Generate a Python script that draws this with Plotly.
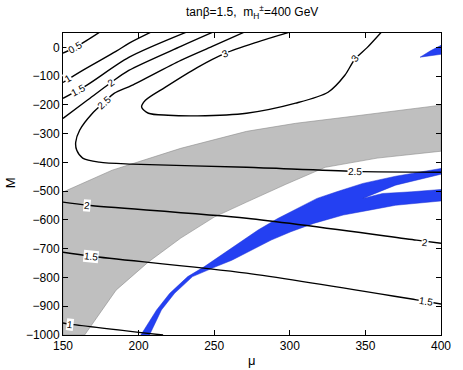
import plotly.graph_objects as go

# ---------------- data ----------------
x_ticks = [150, 200, 250, 300, 350, 400]
y_ticks = [-1000, -900, -800, -700, -600, -500, -400, -300, -200, -100, 0]

# contour lines (mu, M)
c05_mu = [150, 158, 166, 174]
c05_M = [-20, 0, 25, 52]

c1a_mu = [150, 163, 185, 193.5, 207.8]
c1a_M = [-122, -80, -14, 14, 52]

c15a_mu = [150, 165.6, 193.5, 231.2]
c15a_M = [-177, -132, -35, 52]

c2a_mu = [150, 166, 181.8, 193.5, 227.9, 248.7]
c2a_M = [-247, -184, -122, -80, 3.5, 52]

c25_mu = [269.5, 248.7, 227.9, 195.5, 183.8, 177.3, 169.5, 161, 158.4, 159.1, 163, 174, 195.5, 271.4, 342.9, 400]
c25_M = [52, 3.5, -45, -132, -160, -191, -229, -288, -330, -358, -385, -399, -406, -417, -431, -434]

c3_mu = [299.4, 277.9, 257.2, 239, 217.5, 204.5, 202, 206.5, 219.5, 239, 271.4, 303.9, 325.3, 336.4, 342.9, 351.3, 360.4]
c3_M = [52, 17.4, -20.8, -69.4, -139, -184, -208, -229, -236, -238, -229, -194, -156, -97, -42, 0, 52]

c2b_mu = [150, 166.2, 271.4, 383.8, 400]
c2b_M = [-538, -549, -594, -670, -681]

c15b_mu = [150, 168.8, 271.4, 383.8, 400]
c15b_M = [-712, -726, -785, -878, -892]

c1b_mu = [150, 154.5, 216.2]
c1b_M = [-958, -962, -1000]

# contour labels
lab_text = ["0.5", "1", "1.5", "2", "2.5", "3", "3", "2.5", "2", "2", "1.5", "1.5", "1"]
lab_mu = [157.8, 153.2, 159.7, 181.8, 177.3, 257.2, 342.9, 342.9, 166.2, 389.6, 168.8, 390.3, 154.5]
lab_M = [0, -108, -149, -122, -191, -21, -38, -431, -549, -677, -726, -885, -962]
lab_ang = [-30, -31, -28, -36, -42, -23, -50, 1, 5, 6, 6, 9, 7]

# gray band
gray_upper_mu = [150, 182.5, 219.5, 227.9, 271.4, 303.9, 336.4, 400]
gray_upper_M = [-503, -427, -365, -351, -292, -264, -243, -201]
gray_lower_mu = [164.3, 185.1, 206.5, 227.9, 250, 271.4, 297.4, 323.4, 357.8, 400]
gray_lower_M = [-1000, -844, -746, -663, -590, -538, -476, -417, -385, -361]

# blue band: upper edge (left -> right)
blue_up_mu = [201.5, 211.9, 220.6, 232.5, 243.3, 253.1, 266.1, 279, 292, 305, 318, 331, 348.3, 370, 400]
blue_up_M = [-1000, -913, -855, -797, -763, -728, -682, -635, -595, -560, -525, -502, -473, -448, -421]
# gap between the two arms (right -> fork -> right)
blue_gap_mu = [400, 370, 348.3, 361.3, 380.7, 400]
blue_gap_M = [-441, -479, -525, -508, -502, -494]
# lower edge (right -> left)
blue_lo_mu = [400, 370, 352.6, 335.3, 315.8, 300.7, 287.7, 274.7, 261.7, 250.9, 235.7, 223.8, 215.1, 207.2]
blue_lo_M = [-534, -549, -566, -583, -612, -641, -670, -705, -740, -763, -797, -855, -913, -1000]

# small blue sliver (top right)
sliver_mu = [386.2, 393, 400, 400]
sliver_M = [-34, -12, 7, -24]

# ---------------- figure ----------------
fig = go.Figure()

gmu = gray_upper_mu + gray_lower_mu[::-1] + [150, 150]
gM = gray_upper_M + gray_lower_M[::-1] + [-1000, gray_upper_M[0]]
fig.add_trace(go.Scatter(x=gmu, y=gM, mode="lines", fill="toself",
                         fillcolor="rgb(191,191,191)",
                         line=dict(color="rgb(140,140,140)", width=0.6),
                         hoverinfo="skip", showlegend=False))

BLUE = "rgb(36,64,242)"
bmu = blue_up_mu + blue_gap_mu + blue_lo_mu + [blue_up_mu[0]]
bM = blue_up_M + blue_gap_M + blue_lo_M + [blue_up_M[0]]
fig.add_trace(go.Scatter(x=bmu, y=bM, mode="lines", fill="toself", fillcolor=BLUE,
                         line=dict(color="rgb(30,50,210)", width=0.5),
                         hoverinfo="skip", showlegend=False))
fig.add_trace(go.Scatter(x=sliver_mu + [sliver_mu[0]], y=sliver_M + [sliver_M[0]], mode="lines",
                         fill="toself", fillcolor=BLUE,
                         line=dict(color="rgb(30,50,210)", width=0.5),
                         hoverinfo="skip", showlegend=False))

for xs, ys in [(c05_mu, c05_M), (c1a_mu, c1a_M), (c15a_mu, c15a_M), (c2a_mu, c2a_M),
               (c25_mu, c25_M), (c3_mu, c3_M), (c2b_mu, c2b_M), (c15b_mu, c15b_M),
               (c1b_mu, c1b_M)]:
    fig.add_trace(go.Scatter(x=xs, y=ys, mode="lines",
                             line=dict(color="black", width=1.4, shape="spline", smoothing=0.8),
                             hoverinfo="skip", showlegend=False))

FONT = "Liberation Sans, Arial, Helvetica, sans-serif"
for t, xm, ym, a in zip(lab_text, lab_mu, lab_M, lab_ang):
    fig.add_annotation(x=xm, y=ym, text=t, showarrow=False, textangle=a,
                       font=dict(family=FONT, size=10, color="black"),
                       bgcolor="white", borderpad=0)

fig.add_annotation(xref="paper", yref="paper", x=0.5, y=1.0695, xanchor="center", yanchor="middle",
                   text="tanβ=1.5,  m<sub>H</sub><sup>±</sup>=400 GeV",
                   showarrow=False, font=dict(family=FONT, size=12, color="black"))
fig.add_annotation(xref="paper", yref="paper", x=0.5, y=-0.083, xanchor="center", yanchor="middle",
                   text="μ", showarrow=False, font=dict(family=FONT, size=13, color="black"))
fig.add_annotation(xref="paper", yref="paper", x=-0.14, y=0.503, xanchor="center", yanchor="middle",
                   text="M", textangle=-90,
                   showarrow=False, font=dict(family=FONT, size=13, color="black"))

axis_common = dict(showline=True, linecolor="black", linewidth=1, mirror="ticks",
                   ticks="inside", ticklen=5, tickcolor="black", showgrid=False,
                   zeroline=False, tickfont=dict(family=FONT, size=12, color="black"))
fig.update_xaxes(range=[150, 400], tickvals=x_ticks, **axis_common)
fig.update_yaxes(range=[-1000, 50], tickvals=y_ticks, **axis_common)

fig.update_layout(width=463, height=370, margin=dict(l=63, r=15, t=33, b=35),
                  plot_bgcolor="white", paper_bgcolor="white", showlegend=False)

fig.write_html("out.html", config={"displayModeBar": False},
               post_script="document.body.style.margin='0px';document.body.style.overflow='hidden';")
